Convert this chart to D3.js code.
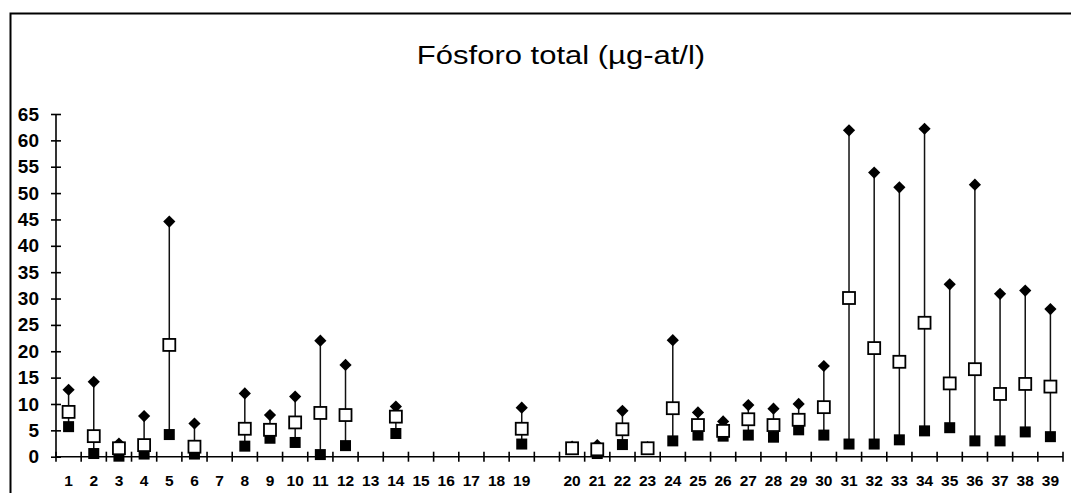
<!DOCTYPE html>
<html lang="es">
<head>
<meta charset="UTF-8">
<title>Fósforo total</title>
<script src="https://d3js.org/d3.v7.min.js"></script>
<style>
  body { margin: 0; padding: 0; background: #fff; }
  svg { display: block; font-family: "Liberation Sans", Arial, sans-serif; }
  .axis path, .axis line { stroke: #000; stroke-width: 1.6px; }
  .axis text { font-weight: bold; fill: #000; }
</style>
</head>
<body>
<div id="chart"></div>
<script>
// Stations (one empty slot between 19 and 20, as in the original)
const stations = ["1","2","3","4","5","6","7","8","9","10","11","12","13","14","15","16","17","18","19","",
  "20","21","22","23","24","25","26","27","28","29","30","31","32","33","34","35","36","37","38","39"];

// maximum (diamond), mean (open square), minimum (filled square); null = no data
const maxVals = [12.7,14.2,2.5,7.7,44.6,6.3,null,12.0,7.9,11.4,22.0,17.4,null,9.5,null,null,null,null,9.3,null,
  1.9,2.2,8.7,1.8,22.1,8.4,6.7,9.8,9.1,10.0,17.2,61.9,53.9,51.1,62.2,32.7,51.6,30.9,31.5,28.0];
const meanVals = [8.5,3.9,1.6,2.2,21.2,1.9,null,5.3,5.1,6.5,8.3,7.9,null,7.6,null,null,null,null,5.3,null,
  1.6,1.4,5.2,1.6,9.2,6.0,4.9,7.1,6.0,7.0,9.4,30.1,20.6,18.0,25.4,13.9,16.6,11.9,13.8,13.3];
const minVals = [5.7,0.6,0.1,0.5,4.2,0.5,null,2.0,3.5,2.7,0.4,2.1,null,4.4,null,null,null,null,2.4,null,
  1.4,0.6,2.3,1.4,3.0,4.1,3.9,4.1,3.7,5.1,4.1,2.4,2.4,3.2,4.9,5.5,3.0,3.0,4.7,3.8];

const yTicks = [0,5,10,15,20,25,30,35,40,45,50,55,60,65];

const W = 1071, H = 493;
const margin = {left: 56, right: 8, top: 114, bottom: 36};

const svg = d3.select("#chart").append("svg")
  .attr("width", W).attr("height", H);

// outer frame (top and left edges)
svg.append("path")
  .attr("d", `M10.5,${H} V13.5 H${W}`)
  .attr("fill", "none").attr("stroke", "#000").attr("stroke-width", 2);

// title, a bit wider than plain Arial like the scanned original
svg.append("text")
  .attr("transform", "translate(561,64) scale(1.24,1)")
  .attr("text-anchor", "middle")
  .style("font-size", "25px")
  .text("Fósforo total (µg-at/l)");

const x = d3.scaleBand()
  .domain(d3.range(stations.length))
  .range([margin.left, 1063])
  .padding(0);

const y = d3.scaleLinear()
  .domain([0, 65])
  .range([456.7, 114]);

// y axis with crossing ticks
const yAxis = svg.append("g").attr("class", "axis")
  .attr("transform", `translate(${margin.left},0)`)
  .call(d3.axisLeft(y).tickValues(yTicks).tickSize(0).tickPadding(17));
yAxis.selectAll(".tick line").attr("x1", -5).attr("x2", 5);
yAxis.selectAll(".tick text").style("font-size", "19px");
yAxis.select(".domain").attr("d", `M0,${y(0)}V${y(65)}`);

// x axis: ticks at slot boundaries
const xg = svg.append("g").attr("class", "axis");
xg.append("line")
  .attr("x1", x.range()[0]).attr("x2", x.range()[1])
  .attr("y1", y(0)).attr("y2", y(0));
const bounds = d3.range(stations.length + 1).map(i => x.range()[0] + i * x.step());
xg.selectAll(".xt").data(bounds).enter().append("line")
  .attr("x1", d => d).attr("x2", d => d)
  .attr("y1", y(0) - 5).attr("y2", y(0) + 5);
xg.selectAll(".xl").data(stations).enter().append("text")
  .attr("x", (d, i) => x(i) + x.bandwidth() / 2)
  .attr("y", 486)
  .attr("text-anchor", "middle")
  .style("font-size", "15.5px")
  .text(d => d);

const idx = d3.range(stations.length).filter(i => maxVals[i] !== null);
const cx = i => x(i) + x.bandwidth() / 2;

// range lines
svg.selectAll(".rng").data(idx).enter().append("line")
  .attr("x1", cx).attr("x2", cx)
  .attr("y1", i => y(maxVals[i])).attr("y2", i => y(minVals[i]))
  .attr("stroke", "#111").attr("stroke-width", 1.5);

// max diamonds
svg.selectAll(".mx").data(idx).enter().append("path")
  .attr("d", d3.symbol().type(d3.symbolDiamond2).size(95))
  .attr("transform", i => `translate(${cx(i)},${y(maxVals[i])})`)
  .attr("fill", "#000");

// min filled squares
svg.selectAll(".mn").data(idx).enter().append("rect")
  .attr("x", i => cx(i) - 5.5).attr("y", i => y(minVals[i]) - 5.5)
  .attr("width", 11).attr("height", 11)
  .attr("fill", "#000");

// mean open squares
svg.selectAll(".me").data(idx).enter().append("rect")
  .attr("x", i => cx(i) - 6).attr("y", i => y(meanVals[i]) - 6)
  .attr("width", 12).attr("height", 12)
  .attr("fill", "#fff").attr("stroke", "#000").attr("stroke-width", 1.8);
</script>
</body>
</html>
